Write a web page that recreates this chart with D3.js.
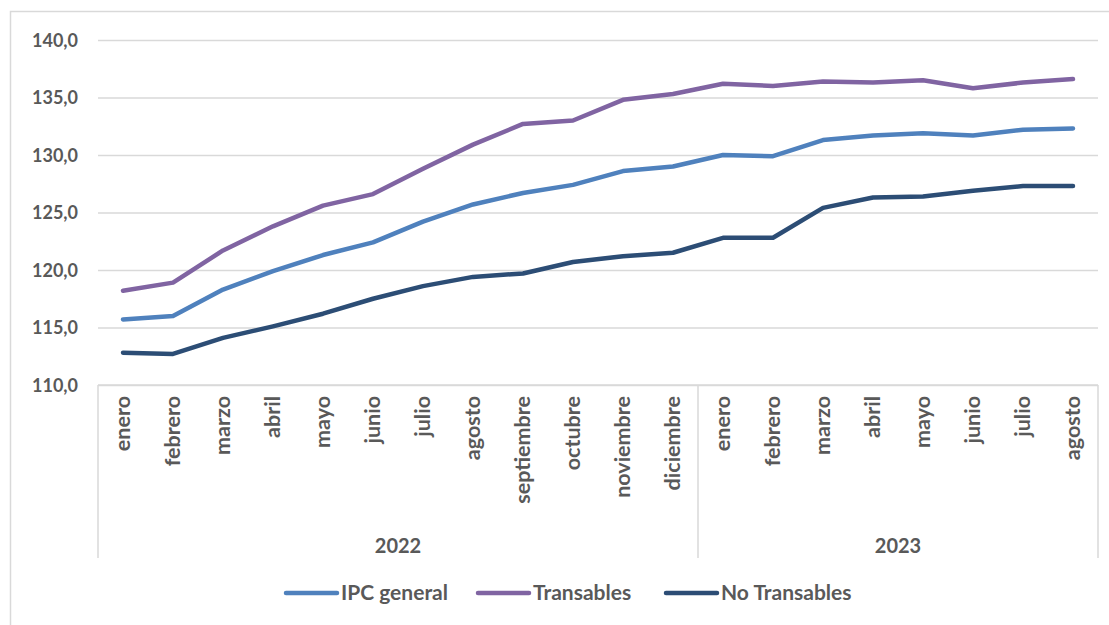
<!DOCTYPE html>
<html>
<head>
<meta charset="utf-8">
<script src="https://cdn.jsdelivr.net/npm/d3@7"></script>
<style>
  body { margin: 0; background: #fff; }
  text { font-family: Lato, "Open Sans", sans-serif; font-weight: bold; fill: #595959; }
</style>
</head>
<body>
<div id="chart-area"></div>
<script>
// data
const months = ["enero", "febrero", "marzo", "abril", "mayo", "junio", "julio", "agosto",
    "septiembre", "octubre", "noviembre", "diciembre",
    "enero", "febrero", "marzo", "abril", "mayo", "junio", "julio", "agosto"];
const years = ["2022", "2023"];
const yearOfMonth = [0,0,0,0,0,0,0,0,0,0,0,0, 1,1,1,1,1,1,1,1];
const ipcGeneral = [115.7, 116.0, 118.3, 119.9, 121.3, 122.4, 124.2, 125.7, 126.7, 127.4, 128.6, 129.0,
    130.0, 129.9, 131.3, 131.7, 131.9, 131.7, 132.2, 132.3];
const transables = [118.2, 118.9, 121.7, 123.8, 125.6, 126.6, 128.8, 130.9, 132.7, 133.0, 134.8, 135.3,
    136.2, 136.0, 136.4, 136.3, 136.5, 135.8, 136.3, 136.6];
const noTransables = [112.8, 112.7, 114.1, 115.1, 116.2, 117.5, 118.6, 119.4, 119.7, 120.7, 121.2, 121.5,
    122.8, 122.8, 125.4, 126.3, 126.4, 126.9, 127.3, 127.3];
const yTicks = [110, 115, 120, 125, 130, 135, 140];
const seriesNames = ["IPC general", "Transables", "No Transables"];
const seriesColors = ["#4F81BD", "#8064A2", "#2C4D75"];

const full_width = 1109, full_height = 625;
const margin = { left: 98, right: 11, top: 40, bottom: 240 };
const width = full_width - margin.left - margin.right, height = full_height - margin.top - margin.bottom;

const svg = d3.select("#chart-area").append("svg")
    .attr("width", full_width).attr("height", full_height);

// outer frame
svg.append("rect")
    .attr("x", 10.5).attr("y", 11.5)
    .attr("width", 1200).attr("height", 700)
    .attr("fill", "none").attr("stroke", "#d9d9d9").attr("stroke-width", 1.5);

const g = svg.append("g").attr("transform", "translate(" + margin.left + ", " + margin.top + ")");

const x = d3.scaleBand()
    .domain(d3.range(months.length))
    .range([0, width]);

const y = d3.scaleLinear()
    .domain([110, 140])
    .range([height, 0]);

// gridlines
g.append("g")
    .attr("class", "grid")
    .call(d3.axisLeft(y).tickValues(yTicks).tickSize(-width).tickFormat(""))
    .call(s => s.select(".domain").remove())
    .call(s => s.selectAll("line").attr("stroke", "#d9d9d9").attr("stroke-width", 1.5));

// y labels
const yAxisCall = d3.axisLeft(y).tickValues(yTicks).tickSize(0).tickPadding(20)
    .tickFormat(d => d3.format(".1f")(d).replace(".", ","));
g.append("g")
    .attr("class", "y-axis")
    .call(yAxisCall)
    .call(s => s.select(".domain").remove())
    .call(s => s.selectAll("text").attr("font-size", "18px").attr("dy", "0.35em"));

// x axis baseline
g.append("line")
    .attr("x1", 0).attr("x2", width)
    .attr("y1", height).attr("y2", height)
    .attr("stroke", "#d9d9d9").attr("stroke-width", 1.5);

// group separators
const sepBottom = 558 - margin.top;
const yearStarts = years.map((yr, i) => yearOfMonth.indexOf(i));
const bounds = yearStarts.map(i => x(i)).concat([width]);
g.selectAll(".sep").data(bounds).enter().append("line")
    .attr("class", "sep")
    .attr("x1", d => d).attr("x2", d => d)
    .attr("y1", height).attr("y2", sepBottom)
    .attr("stroke", "#d9d9d9").attr("stroke-width", 1.5);

// month labels
g.selectAll(".month").data(months).enter().append("text")
    .attr("class", "month")
    .attr("transform", (d, i) => "translate(" + (x(i) + x.bandwidth() / 2 + 7) + "," + (height + 11) + ") rotate(-90)")
    .attr("text-anchor", "end")
    .attr("font-size", "21.5px")
    .text(d => d);

// year labels
g.selectAll(".year").data(years).enter().append("text")
    .attr("class", "year")
    .attr("x", (d, i) => (bounds[i] + bounds[i + 1]) / 2)
    .attr("y", 553 - margin.top)
    .attr("text-anchor", "middle")
    .attr("font-size", "20px")
    .text(d => d);

// lines
const allSeries = [ipcGeneral, transables, noTransables];
const line = d3.line()
    .x((d, i) => x(i) + x.bandwidth() / 2)
    .y(d => y(d));

g.selectAll(".series").data(allSeries).enter().append("path")
    .attr("class", "series")
    .attr("d", line)
    .attr("fill", "none")
    .attr("stroke", (d, i) => seriesColors[i])
    .attr("stroke-width", 4.5)
    .attr("stroke-linecap", "round")
    .attr("stroke-linejoin", "round");

// legend
const legendX = [286, 478, 666];
const legend = svg.selectAll(".legend").data(seriesNames).enter().append("g")
    .attr("class", "legend")
    .attr("transform", (d, i) => "translate(" + legendX[i] + ", 593)");
legend.append("line")
    .attr("x1", 0).attr("x2", 51)
    .attr("stroke", (d, i) => seriesColors[i])
    .attr("stroke-width", 4.5)
    .attr("stroke-linecap", "round");
legend.append("text")
    .attr("x", 55).attr("dy", "0.35em")
    .attr("font-size", "21px")
    .text(d => d);
</script>
</body>
</html>
